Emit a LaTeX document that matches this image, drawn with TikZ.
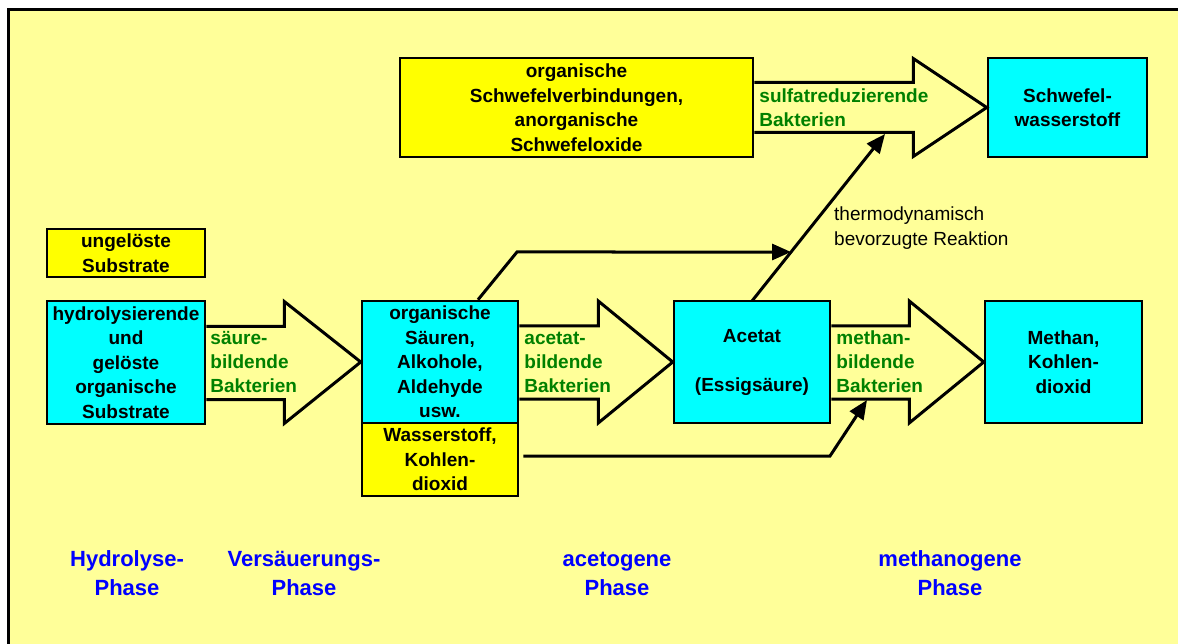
\documentclass[tikz,border=0pt]{standalone}
\usepackage{fontspec}
\setmainfont{Liberation Sans}
\usetikzlibrary{arrows.meta,calc}
\definecolor{bgy}{HTML}{FFFF99}
\definecolor{boxy}{HTML}{FFFF00}
\definecolor{boxc}{HTML}{00FFFF}
\definecolor{grn}{HTML}{008000}
\definecolor{blu}{HTML}{0000FF}
\begin{document}
\begin{tikzpicture}[x=1pt,y=-1pt,
 box/.style={draw,line width=2.5pt,inner sep=0pt,align=center,font=\bfseries\fontsize{19}{24.5}\selectfont},
 ybox/.style={box,fill=boxy},
 cbox/.style={box,fill=boxc},
 barrow/.style={draw,line width=3pt},
 glab/.style={anchor=west,align=left,text=grn,inner sep=0pt,font=\bfseries\fontsize{19}{24}\selectfont},
 phase/.style={align=center,text=blu,inner sep=0pt,font=\bfseries\fontsize{22}{29}\selectfont},
 conn/.style={line width=3pt,-{Triangle[length=19pt,width=16pt]}}]
\useasboundingbox (0,0) rectangle (1178,644);
\fill[bgy] (8,10) rectangle (1178,644);
\draw[line width=3pt] (8,650) -- (8,10) -- (1185,10);

% boxes
\node[ybox,minimum width=353pt,minimum height=99pt] (sbox) at (576.5,107.5) {organische\\Schwefelverbindungen,\\anorganische\\Schwefeloxide};
\node[cbox,minimum width=159pt,minimum height=99pt] (h2s) at (1067.5,107.5) {Schwefel-\\wasserstoff};
\node[ybox,minimum width=158pt,minimum height=48pt] (ungel) at (126,253) {ungelöste\\Substrate};
\node[cbox,minimum width=158pt,minimum height=123pt] (hyd) at (126,362.5) {hydrolysierende\\und\\gelöste\\organische\\Substrate};
\node[cbox,minimum width=156pt,minimum height=122pt] (org) at (440,362) {organische\\Säuren,\\Alkohole,\\Aldehyde\\usw.};
\node[ybox,minimum width=156pt,minimum height=73pt] (h2) at (440,459.5) {Wasserstoff,\\Kohlen-\\dioxid};
\node[cbox,minimum width=156pt,minimum height=122pt] (acet) at (752,362) {Acetat\\ \strut\\ (Essigsäure)};
\node[cbox,minimum width=157pt,minimum height=122pt] (meth) at (1063.5,362) {Methan,\\Kohlen-\\dioxid};

% block arrows
\draw[barrow] ($(sbox.east)+(0,-25)$) -| ($(sbox.east)+(159,-49)$) -- (h2s.west) -- ($(sbox.east)+(159,49)$) |- ($(sbox.east)+(0,25)$);
\draw[barrow] ($(hyd.east)+(0,-36)$) -| ($(hyd.east)+(78,-61)$) -- (org.west) -- ($(hyd.east)+(78,61)$) |- ($(hyd.east)+(0,37)$);
\draw[barrow] ($(org.east)+(0,-36)$) -| ($(org.east)+(79,-61)$) -- (acet.west) -- ($(org.east)+(79,61)$) |- ($(org.east)+(0,37)$);
\draw[barrow] ($(acet.east)+(0,-36)$) -| ($(acet.east)+(78,-61)$) -- (meth.west) -- ($(acet.east)+(78,61)$) |- ($(acet.east)+(0,37)$);

% green labels
\node[glab] (l0) at ($(sbox.east)+(5,0)$) {sulfatreduzierende\\Bakterien};
\node[glab] (l1) at ($(hyd.east)+(4,0)$) {säure-\\bildende\\Bakterien};
\node[glab] (l2) at ($(org.east)+(5,0)$) {acetat-\\bildende\\Bakterien};
\node[glab] (l3) at ($(acet.east)+(5,0)$) {methan-\\bildende\\Bakterien};

% note
\node[anchor=west,align=left,inner sep=0pt,font=\fontsize{19}{25}\selectfont] (thermo) at (834,228.5) {thermodynamisch\\bevorzugte Reaktion};

% connectors
\coordinate (d0) at (752,301);
\coordinate (d1) at (885,134);
\draw[conn] (d0) -- (d1);
\coordinate (k1) at (517,252);
\draw[conn] ($(org.north)+(38,0)$) -- (k1) -- ($(d0)!0.2934!(d1)$);
\coordinate (k2) at (830,456);
\coordinate (k3) at (867,400);
\draw[conn] ($(h2.east)+(4,-3.5)$) -- (k2) -- (k3);

% phases
\node[phase] (p1) at (127,573.5) {Hydrolyse-\\Phase};
\node[phase] (p2) at (304,573.5) {Versäuerungs-\\Phase};
\node[phase] (p3) at (617,573.5) {acetogene\\Phase};
\node[phase] (p4) at (950,573.5) {methanogene\\Phase};
\end{tikzpicture}
\end{document}
